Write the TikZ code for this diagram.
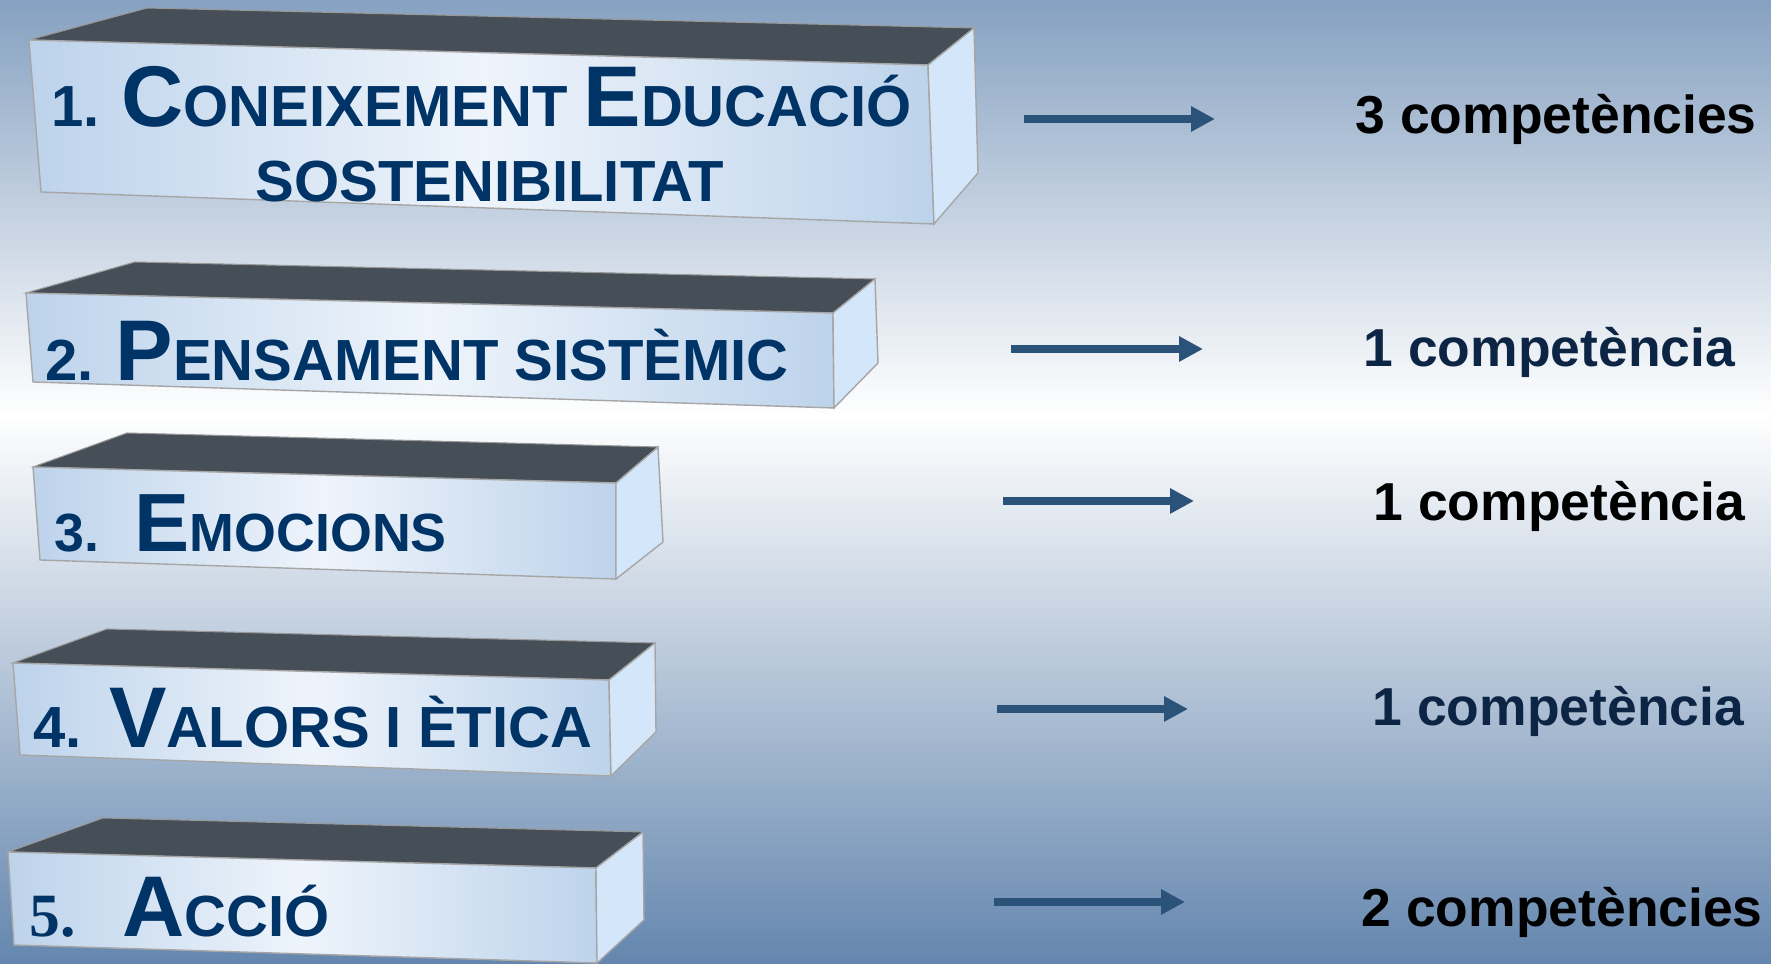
\documentclass[tikz,border=0pt]{standalone}
\usepackage{fontspec}
\setmainfont{Liberation Sans}
\newfontfamily\numfont{Liberation Serif}
\usetikzlibrary{arrows.meta}

\definecolor{bgtop}{HTML}{86A1C1}
\definecolor{bgbottom}{HTML}{6486AE}
\definecolor{topgrey}{HTML}{464E58}
\definecolor{facebase}{HTML}{BDD3EB}
\definecolor{faceglow}{HTML}{EEF4FB}
\definecolor{sidelight}{HTML}{D4E6F9}
\definecolor{titleblue}{HTML}{003366}
\definecolor{navy}{HTML}{0D2545}
\definecolor{arrowblue}{HTML}{2B5278}

% big initial letter, the rest of the word in the smaller size
\newcommand{\initial}[1]{{\fontsize{24.5}{24.5}\selectfont #1}}

% one slab: back-left, back-right, front top-right, front top-left,
% front bottom-left, front bottom-right, back bottom
\newcommand{\slab}[7]{%
  \fill[topface] #1 -- #2 -- #3 -- #4 -- cycle;
  \shade[frontface] #4 -- #3 -- #6 -- #5 -- cycle;
  \fill[sideface] #3 -- #2 -- #7 -- #6 -- cycle;
}

\begin{document}
\begin{tikzpicture}[x=0.01cm, y=0.01cm,
    topface/.style = {fill=topgrey, draw=gray!80, line width=0.3pt},
    frontface/.style = {left color=facebase, right color=facebase, middle color=faceglow, draw=gray!70, line width=0.4pt},
    sideface/.style = {fill=sidelight, draw=gray!70, line width=0.4pt},
    title/.style = {anchor=base west, inner sep=0pt, text=titleblue, font=\bfseries\fontsize{16.5}{16.5}\selectfont},
    count/.style = {anchor=base west, inner sep=0pt, font=\bfseries\fontsize{15.2}{15.2}\selectfont},
    link/.style = {arrowblue, line width=2.3pt, -{Triangle[length=6.8pt,width=6.8pt]}}]

    \useasboundingbox (0,0) rectangle (1771,964);

    % background
    \fill[top color=bgtop, bottom color=white] (0,549) rectangle (1771,964);
    \fill[top color=white, bottom color=bgbottom] (0,0) rectangle (1771,550);

    % slabs
    \slab{(147,956)}{(974,936)}{(928,899)}{(29,924)}{(41,772)}{(934,740)}{(978,791)}
    \slab{(135,702)}{(875,685)}{(833,651)}{(26,671)}{(33,582)}{(834,556)}{(878,601)}
    \slab{(127,531)}{(658,517)}{(616,481)}{(33,497)}{(40,404)}{(616,385)}{(663,422)}
    \slab{(107,335)}{(655,321)}{(609,284)}{(13,301)}{(20,209)}{(611,188)}{(656,232)}
    \slab{(103,146)}{(643,132)}{(596,96)}{(8,112)}{(14,19)}{(597,1)}{(644,44)}

    % titles
    \node[title] (t1) at (51,837) {1. \initial{C}ONEIXEMENT \initial{E}DUCACIÓ};
    \node[title] (t1b) at (255,762) {SOSTENIBILITAT};
    \node[title] (t2) at (45,583) {2. \initial{P}ENSAMENT SISTÈMIC};
    \node[title, font=\bfseries\fontsize{15.3}{15.3}\selectfont] (t3) at (54,412)
        {3.\hspace{0.65em}{\fontsize{23.5}{23.5}\selectfont E}MOCIONS};
    \node[title] (t4) at (33,216) {4.\hspace{0.47em}\initial{V}ALORS I ÈTICA};
    \node[title] (t5) at (29,27) {{\numfont\fontsize{17.5}{17.5}\selectfont 5.}\hspace{0.8em}\initial{A}CCIÓ};

    % arrows
    \coordinate (a1) at (1024,845); \coordinate (b1) at (1215,845);
    \coordinate (a2) at (1011,615); \coordinate (b2) at (1203,615);
    \coordinate (a3) at (1003,463); \coordinate (b3) at (1194,463);
    \coordinate (a4) at (997,255);  \coordinate (b4) at (1188,255);
    \coordinate (a5) at (994,62);   \coordinate (b5) at (1185,62);
    \foreach \i in {1,...,5}
        \draw[link] (a\i) -- (b\i);

    % counts
    \node[count] (c1) at (1355,830) {3 competències};
    \node[count, text=navy] (c2) at (1363,597) {1 competència};
    \node[count] (c3) at (1373,443) {1 competència};
    \node[count, text=navy] (c4) at (1372,238) {1 competència};
    \node[count] (c5) at (1361,37) {2 competències};

\end{tikzpicture}
\end{document}
